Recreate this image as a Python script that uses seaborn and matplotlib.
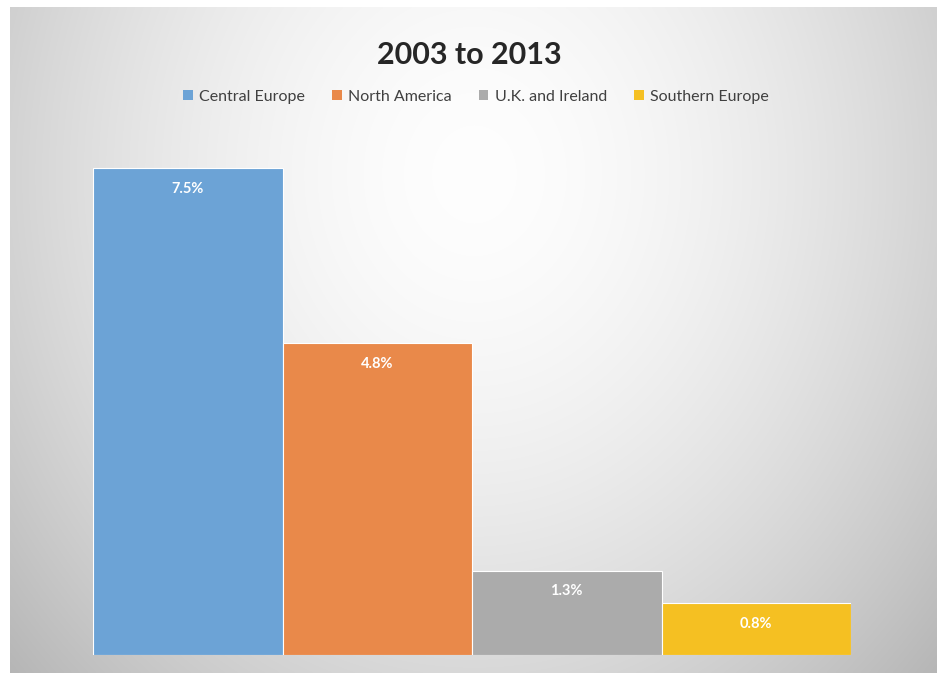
import numpy as np
import pandas as pd
import matplotlib
matplotlib.use("Agg")
import matplotlib.pyplot as plt
from matplotlib.patches import Patch
import seaborn as sns

regions = ["Central Europe", "North America", "U.K. and Ireland", "Southern Europe"]
growth = [7.5, 4.8, 1.3, 0.8]
labels = ["7.5%", "4.8%", "1.3%", "0.8%"]
colors = ["#6ca3d6", "#e9894a", "#ababab", "#f5c022"]
title = "2003 to 2013"

sns.set_theme(style="white")
plt.rcParams["font.family"] = ["Lato", "DejaVu Sans"]

W, H, DPI = 938, 673, 100
fig = plt.figure(figsize=(W / DPI, H / DPI), dpi=DPI)
fig.patch.set_facecolor("white")

# radial grey background panel
bg = fig.add_axes([10 / W, 0, (W - 12) / W, (H - 7) / H], zorder=0)
ny, nx = 330, 460
yy, xx = np.mgrid[0:ny, 0:nx]
cx, cy = nx * 0.50, ny * 0.25
r = np.sqrt(((xx - cx) / (nx * 0.62)) ** 2 + ((yy - cy) / (ny * 1.0)) ** 2)
shade = 0.995 - 0.24 * np.clip(r, 0, 1.2) ** 1.7
bg.imshow(np.dstack([shade] * 3), aspect="auto", interpolation="bilinear",
          extent=(0, 1, 0, 1), origin="upper")
bg.set_axis_off()

# bars
px_per_unit = (655 - 168) / 7.5
ax = fig.add_axes([93 / W, (H - 655) / H, (851 - 93) / W, (655 - 150) / H], zorder=1)
ax.patch.set_alpha(0)
df = pd.DataFrame({"region": regions, "growth": growth})
sns.barplot(data=df, x="region", y="growth", hue="region", palette=colors,
            width=1.0, dodge=False, legend=False, ax=ax,
            edgecolor="white", linewidth=0.8, saturation=1)
ax.set_xlim(-0.5, 3.5)
ax.set_ylim(0, (655 - 150) / px_per_unit)
ax.set_axis_off()

for i, (v, lab) in enumerate(zip(growth, labels)):
    ax.annotate(lab, xy=(i, v), xytext=(0, -15), textcoords="offset points",
                ha="center", va="center", color="white", fontsize=10.5,
                fontweight="bold")

fig.text(469 / W, 1 - 55 / H, title, ha="center", va="center",
         fontsize=22, fontweight="bold", color="#262626")

handles = [Patch(facecolor=c, edgecolor="none", label=r) for r, c in zip(regions, colors)]
fig.legend(handles=handles, loc="center", bbox_to_anchor=(476 / W, 1 - 97 / H),
           ncol=4, frameon=False, fontsize=11.5, handlelength=0.6, handleheight=0.6,
           handletextpad=0.4, columnspacing=1.7, labelcolor="#404040")

fig.savefig("out.png", dpi=DPI)
